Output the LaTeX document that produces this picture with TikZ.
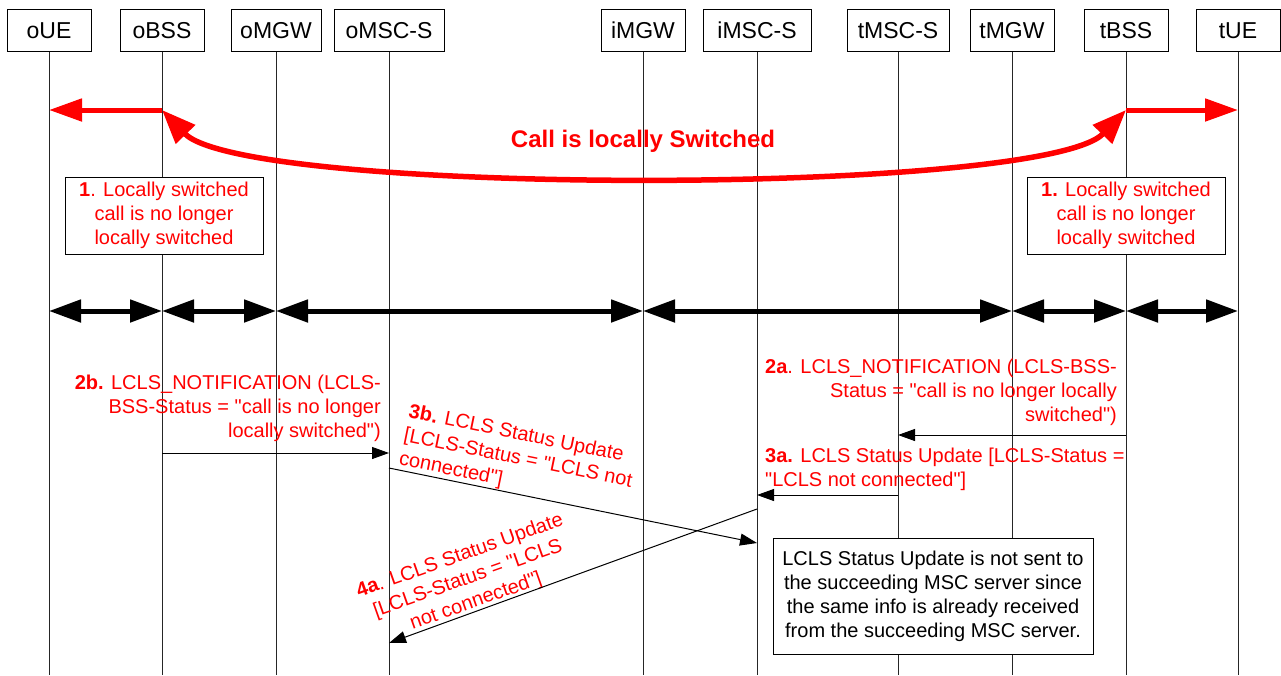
\documentclass[tikz,border=0pt]{standalone}
\usepackage{fontspec}
\setmainfont{Liberation Sans}[Ligatures=TeXOff]
\usetikzlibrary{arrows.meta}
\begin{document}
\begin{tikzpicture}[x=1pt,y=-1pt,
  hdr/.style={draw, line width=0.8pt, fill=white, minimum width=84pt, minimum height=42pt, inner xsep=9pt, font=\fontsize{23}{27}\selectfont},
  life/.style={line width=1pt, black!85},
  lbl/.style={text=red, font=\fontsize{20}{24}\selectfont, inner sep=0pt},
  note/.style={draw, line width=0.8pt, fill=white, align=center, font=\fontsize{20}{24}\selectfont},
  msg/.style={line width=1pt, -{Triangle[length=17pt,width=12pt]}},
  dbl/.style={line width=5pt, {Triangle[length=32pt,width=22pt]}-{Triangle[length=32pt,width=22pt]}},
  redarr/.style={red, line width=5pt, -{Triangle[length=33pt,width=22pt]}}]
\useasboundingbox (0,0) rectangle (1281,675);
\fill[white] (0,0) rectangle (1281,675);
% headers
\node[hdr] (oUE) at (49,30.5) {oUE};
\node[hdr] (oBSS) at (162,30.5) {oBSS};
\node[hdr, minimum width=90pt] (oMGW) at (276,30.5) {oMGW};
\node[hdr, minimum width=110pt] (oMSC) at (389,30.5) {oMSC-S};
\node[hdr] (iMGW) at (643,30.5) {iMGW};
\node[hdr, minimum width=108pt] (iMSC) at (757,30.5) {iMSC-S};
\node[hdr, minimum width=102pt] (tMSC) at (898,30.5) {tMSC-S};
\node[hdr] (tMGW) at (1012,30.5) {tMGW};
\node[hdr] (tBSS) at (1126,30.5) {tBSS};
\node[hdr] (tUE) at (1238,30.5) {tUE};
% lifelines
\foreach \n in {oUE,oBSS,oMGW,oMSC,iMGW,iMSC,tMSC,tMGW,tBSS,tUE}
  \draw[life] (\n.south) -- (\n.south |- 0,675);
% red local switching arrows
\draw[redarr] (oBSS |- 0,110) -- (oUE |- 0,110);
\draw[redarr] (tBSS |- 0,110) -- (tUE |- 0,110);
\draw[red, line width=5.5pt, {Triangle[length=34pt,width=26pt]}-{Triangle[length=34pt,width=26pt]}]
  (oBSS |- 0,110) .. controls (245,196) and (1043,196) .. (tBSS |- 0,110);
\node[text=red, font=\bfseries\fontsize{24}{28}\selectfont] (call) at (643,141) {Call is locally Switched};
% step 1 boxes
\node[note, text=red, minimum width=198pt, minimum height=77pt] (n1l) at (164,215.5) {\textbf{1}. Locally switched\\call is no longer\\locally switched};
\node[note, text=red, minimum width=198pt, minimum height=77pt] (n1r) at (1126,215.5) {\textbf{1.} Locally switched\\call is no longer\\locally switched};
% bearer double arrows
\draw[dbl] (oUE |- 0,311) -- (oBSS |- 0,311);
\draw[dbl] (oBSS |- 0,311) -- (oMGW |- 0,311);
\draw[dbl] (oMGW |- 0,311) -- (iMGW |- 0,311);
\draw[dbl] (iMGW |- 0,311) -- (tMGW |- 0,311);
\draw[dbl] (tMGW |- 0,311) -- (tBSS |- 0,311);
\draw[dbl] (tBSS |- 0,311) -- (tUE |- 0,311);
% 2b
\node[lbl, align=right, anchor=east] (l2b) at (381,408) {\textbf{2b.} LCLS\_NOTIFICATION (LCLS-\\BSS-Status = "call is no longer\\locally switched")};
\draw[msg] (oBSS |- 0,453) -- (oMSC |- 0,453);
% 2a
\node[lbl, align=right, anchor=east] (l2a) at (1117,392) {\textbf{2a}. LCLS\_NOTIFICATION (LCLS-BSS-\\Status = "call is no longer locally\\switched")};
\draw[msg] (tBSS |- 0,435) -- (tMSC |- 0,435);
% 3a
\node[lbl, align=left, anchor=west] (l3a) at (765,469) {\textbf{3a.} LCLS Status Update [LCLS-Status =\\"LCLS not connected"]};
\draw[msg] (tMSC |- 0,495) -- (iMSC |- 0,495);
% 3b
\node[lbl, align=left, rotate=-11.5] (l3b) at (518,459) {\textbf{3b.} LCLS Status Update\\{}[LCLS-Status = "LCLS not\\connected"]};
\draw[msg] (oMSC |- 0,468) -- (iMSC |- 0,543);
% 4a
\node[lbl, align=center, rotate=19.5] (l4a) at (468,579) {\textbf{4a}. LCLS Status Update\\{}[LCLS-Status = "LCLS\\not connected"]};
\draw[msg] (iMSC |- 0,509) -- (oMSC |- 0,643);
% note
\node[note, minimum width=320pt, minimum height=116pt] (nb) at (933,596) {LCLS Status Update is not sent to\\the succeeding MSC server since\\the same info is already received\\from the succeeding MSC server.};
\end{tikzpicture}
\end{document}
